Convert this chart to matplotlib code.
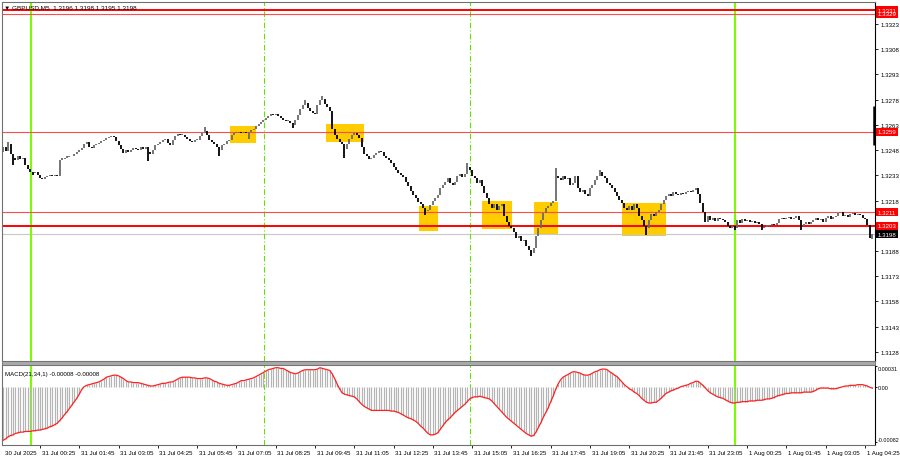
import matplotlib
matplotlib.use("Agg")
import matplotlib.pyplot as plt
import matplotlib.transforms as mtransforms
from matplotlib.patches import Rectangle
import pandas as pd

plt.rcParams['font.family'] = ['Liberation Sans', 'DejaVu Sans']

# ---------------- data ----------------
bar_start = "2025-07-30 23:10"
closes = [
    1.32501, 1.32477, 1.32518, 1.32459, 1.32430, 1.32418, 1.32442, 1.32424, 1.32430, 1.32394,
    1.32370, 1.32347, 1.32341, 1.32347, 1.32329, 1.32311, 1.32305, 1.32317, 1.32323, 1.32329,
    1.32323, 1.32329, 1.32323, 1.32418, 1.32430, 1.32430, 1.32442, 1.32442, 1.32447, 1.32459,
    1.32471, 1.32483, 1.32495, 1.32513, 1.32530, 1.32501, 1.32495, 1.32507, 1.32513, 1.32524,
    1.32536, 1.32542, 1.32554, 1.32560, 1.32566, 1.32560, 1.32536, 1.32507, 1.32489, 1.32465,
    1.32483, 1.32471, 1.32483, 1.32495, 1.32489, 1.32483, 1.32501, 1.32489, 1.32501, 1.32471,
    1.32459, 1.32483, 1.32507, 1.32518, 1.32530, 1.32542, 1.32548, 1.32524, 1.32507, 1.32542,
    1.32566, 1.32578, 1.32572, 1.32572, 1.32560, 1.32548, 1.32536, 1.32530, 1.32542, 1.32542,
    1.32566, 1.32584, 1.32596, 1.32572, 1.32542, 1.32530, 1.32518, 1.32501, 1.32483, 1.32507,
    1.32518, 1.32536, 1.32542, 1.32572, 1.32584, 1.32584, 1.32590, 1.32584, 1.32590, 1.32584,
    1.32590, 1.32601, 1.32607, 1.32625, 1.32637, 1.32649, 1.32661, 1.32673, 1.32684, 1.32696,
    1.32690, 1.32696, 1.32684, 1.32673, 1.32661, 1.32655, 1.32655, 1.32643, 1.32631, 1.32661,
    1.32690, 1.32726, 1.32750, 1.32762, 1.32732, 1.32714, 1.32702, 1.32696, 1.32750, 1.32779,
    1.32785, 1.32756, 1.32738, 1.32714, 1.32607, 1.32572, 1.32548, 1.32530, 1.32513, 1.32489,
    1.32513, 1.32548, 1.32572, 1.32584, 1.32572, 1.32554, 1.32501, 1.32459, 1.32442, 1.32424,
    1.32430, 1.32453, 1.32465, 1.32477, 1.32471, 1.32447, 1.32430, 1.32418, 1.32400, 1.32382,
    1.32359, 1.32341, 1.32329, 1.32317, 1.32293, 1.32264, 1.32234, 1.32211, 1.32192, 1.32169,
    1.32157, 1.32133, 1.32115, 1.32121, 1.32151, 1.32175, 1.32192, 1.32211, 1.32252, 1.32275,
    1.32293, 1.32311, 1.32287, 1.32275, 1.32293, 1.32323, 1.32335, 1.32317, 1.32335, 1.32382,
    1.32359, 1.32323, 1.32311, 1.32287, 1.32299, 1.32264, 1.32222, 1.32192, 1.32157, 1.32133,
    1.32157, 1.32121, 1.32145, 1.32157, 1.32086, 1.32050, 1.32026, 1.32014, 1.31991, 1.31955,
    1.31967, 1.31938, 1.31944, 1.31908, 1.31884, 1.31866, 1.31896, 1.31967, 1.32014, 1.32062,
    1.32103, 1.32133, 1.32145, 1.32163, 1.32175, 1.32323, 1.32311, 1.32299, 1.32323, 1.32305,
    1.32311, 1.32275, 1.32287, 1.32323, 1.32252, 1.32228, 1.32240, 1.32216, 1.32204, 1.32252,
    1.32275, 1.32299, 1.32323, 1.32347, 1.32323, 1.32311, 1.32287, 1.32275, 1.32252, 1.32228,
    1.32204, 1.32181, 1.32163, 1.32133, 1.32121, 1.32145, 1.32121, 1.32157, 1.32133, 1.32086,
    1.32062, 1.32026, 1.32014, 1.32062, 1.32097, 1.32086, 1.32109, 1.32121, 1.32157, 1.32181,
    1.32204, 1.32216, 1.32204, 1.32228, 1.32216, 1.32211, 1.32222, 1.32216, 1.32228, 1.32234,
    1.32228, 1.32240, 1.32252, 1.32216, 1.32163, 1.32109, 1.32050, 1.32086, 1.32062, 1.32074,
    1.32056, 1.32074, 1.32068, 1.32062, 1.32050, 1.32026, 1.32014, 1.32026, 1.32014, 1.32062,
    1.32044, 1.32068, 1.32056, 1.32062, 1.32050, 1.32056, 1.32044, 1.32050, 1.32038, 1.32014,
    1.32020, 1.32032, 1.32032, 1.32038, 1.32032, 1.32044, 1.32068, 1.32074, 1.32068, 1.32074,
    1.32080, 1.32068, 1.32074, 1.32086, 1.32062, 1.32026, 1.32038, 1.32050, 1.32038, 1.32050,
    1.32062, 1.32074, 1.32062, 1.32068, 1.32050, 1.32074, 1.32086, 1.32068, 1.32080, 1.32086,
    1.32103, 1.32109, 1.32086, 1.32092, 1.32080, 1.32097, 1.32103, 1.32092, 1.32097, 1.32092,
    1.32074, 1.32068, 1.32032, 1.31960, 1.31980,
]
first_open = 1.32470
wick_high = {2: 1.32530, 82: 1.32619, 123: 1.32780, 130: 1.32803, 189: 1.32400,
             225: 1.32376, 243: 1.32359, 354: 1.31980}
wick_low = {4: 1.32390, 12: 1.32330, 59: 1.32412, 88: 1.32447, 100: 1.32548, 118: 1.32613,
            139: 1.32430, 172: 1.32092, 215: 1.31849, 262: 1.31973, 298: 1.32003,
            309: 1.32003, 325: 1.32003, 354: 1.31950}

macd = [
    -0.00079, -0.00077, -0.00074, -0.00072, -0.00071, -0.00069, -0.00068, -0.00067, -0.00067, -0.00066,
    -0.00066, -0.00066, -0.00065, -0.00065, -0.00064, -0.00064, -0.00063, -0.00062, -0.00061, -0.00059,
    -0.00058, -0.00056, -0.00054, -0.00050, -0.00046, -0.00041, -0.00037, -0.00032, -0.00027, -0.00022,
    -0.00017, -0.00011, -0.00004, 0.00000, 0.00002, 0.00003, 0.00004, 0.00005, 0.00006, 0.00007,
    0.00009, 0.00011, 0.00014, 0.00015, 0.00016, 0.00017, 0.00017, 0.00016, 0.00014, 0.00012,
    0.00009, 0.00007, 0.00007, 0.00006, 0.00006, 0.00006, 0.00005, 0.00004, 0.00003, 0.00002,
    0.00001, 0.00001, 0.00002, 0.00003, 0.00004, 0.00005, 0.00005, 0.00006, 0.00007, 0.00007,
    0.00009, 0.00011, 0.00013, 0.00014, 0.00014, 0.00014, 0.00014, 0.00013, 0.00013, 0.00012,
    0.00012, 0.00012, 0.00013, 0.00013, 0.00012, 0.00010, 0.00008, 0.00007, 0.00005, 0.00004,
    0.00003, 0.00002, 0.00002, 0.00003, 0.00004, 0.00005, 0.00007, 0.00009, 0.00009, 0.00010,
    0.00011, 0.00012, 0.00013, 0.00015, 0.00017, 0.00019, 0.00021, 0.00023, 0.00025, 0.00026,
    0.00027, 0.00028, 0.00028, 0.00027, 0.00027, 0.00025, 0.00023, 0.00021, 0.00020, 0.00019,
    0.00020, 0.00022, 0.00024, 0.00025, 0.00025, 0.00025, 0.00025, 0.00025, 0.00026, 0.00028,
    0.00027, 0.00026, 0.00025, 0.00024, 0.00019, 0.00012, 0.00004, -0.00003, -0.00009, -0.00011,
    -0.00012, -0.00013, -0.00014, -0.00015, -0.00018, -0.00022, -0.00026, -0.00029, -0.00031, -0.00033,
    -0.00035, -0.00035, -0.00035, -0.00035, -0.00035, -0.00035, -0.00035, -0.00035, -0.00036, -0.00036,
    -0.00037, -0.00038, -0.00040, -0.00042, -0.00044, -0.00046, -0.00047, -0.00049, -0.00051, -0.00054,
    -0.00058, -0.00061, -0.00065, -0.00069, -0.00071, -0.00071, -0.00070, -0.00068, -0.00063, -0.00058,
    -0.00053, -0.00049, -0.00046, -0.00042, -0.00038, -0.00035, -0.00032, -0.00029, -0.00026, -0.00022,
    -0.00018, -0.00016, -0.00015, -0.00015, -0.00014, -0.00015, -0.00016, -0.00017, -0.00018, -0.00021,
    -0.00025, -0.00029, -0.00033, -0.00037, -0.00041, -0.00045, -0.00048, -0.00051, -0.00054, -0.00057,
    -0.00060, -0.00063, -0.00066, -0.00069, -0.00071, -0.00073, -0.00072, -0.00067, -0.00060, -0.00053,
    -0.00045, -0.00038, -0.00031, -0.00022, -0.00014, -0.00004, 0.00004, 0.00010, 0.00014, 0.00016,
    0.00018, 0.00020, 0.00022, 0.00022, 0.00021, 0.00020, 0.00018, 0.00017, 0.00017, 0.00018,
    0.00020, 0.00022, 0.00023, 0.00025, 0.00026, 0.00026, 0.00025, 0.00022, 0.00020, 0.00017,
    0.00015, 0.00011, 0.00007, 0.00003, 0.00000, -0.00003, -0.00005, -0.00008, -0.00010, -0.00013,
    -0.00017, -0.00020, -0.00023, -0.00024, -0.00024, -0.00023, -0.00023, -0.00020, -0.00017, -0.00013,
    -0.00010, -0.00008, -0.00006, -0.00005, -0.00003, -0.00002, 0.00000, 0.00001, 0.00002, 0.00003,
    0.00005, 0.00006, 0.00008, 0.00008, 0.00005, 0.00002, -0.00002, -0.00006, -0.00009, -0.00011,
    -0.00013, -0.00015, -0.00016, -0.00017, -0.00019, -0.00021, -0.00023, -0.00024, -0.00024, -0.00023,
    -0.00023, -0.00022, -0.00022, -0.00022, -0.00021, -0.00021, -0.00021, -0.00020, -0.00020, -0.00020,
    -0.00019, -0.00018, -0.00018, -0.00017, -0.00016, -0.00014, -0.00013, -0.00012, -0.00011, -0.00010,
    -0.00010, -0.00009, -0.00009, -0.00009, -0.00009, -0.00009, -0.00008, -0.00008, -0.00008, -0.00008,
    -0.00007, -0.00005, -0.00003, -0.00002, -0.00002, -0.00002, -0.00002, -0.00003, -0.00003, -0.00003,
    -0.00002, -0.00001, 0.00000, 0.00001, 0.00001, 0.00002, 0.00002, 0.00002, 0.00003, 0.00003,
    0.00003, 0.00002, 0.00001, -0.00001, -0.00002,
]

price_ticks = [1.3323, 1.3308, 1.3293, 1.3278, 1.3263, 1.3248, 1.3233, 1.3218,
               1.3188, 1.3173, 1.3158, 1.3143, 1.3128]
price_range = (1.31226, 1.33360)
macd_ticks = [0.00031, 0.0, -0.00082]
macd_tick_labels = ["0.00031", "0.00", "-0.00082"]
macd_range = (-0.00086, 0.00032)

levels = [1.3331, 1.3329, 1.3259, 1.3211, 1.3203]
level_widths = [1.4, 0.8, 0.8, 0.8, 1.4]
level_colors = ["#ff0000", "#ff4d4d", "#ff4d4d", "#ff4d4d", "#ff0000"]
current_price = 1.3198

# yellow zones: (first bar, last bar, low price, high price)
zones = [(92.4, 103.0, 1.32519, 1.32625),
         (131.5, 147.0, 1.32530, 1.32637),
         (169.4, 177.1, 1.31997, 1.32145),
         (195.0, 207.2, 1.32009, 1.32175),
         (216.2, 226.0, 1.31979, 1.32169),
         (252.1, 270.0, 1.31967, 1.32163)]

session_solid = [11.33, 298.05]
session_dash = [106.35, 190.25]
scale_marker = (1.32507, 1.32744)

time_labels = ["30 Jul 2025", "31 Jul 00:25", "31 Jul 01:45", "31 Jul 03:05", "31 Jul 04:25",
               "31 Jul 05:45", "31 Jul 07:05", "31 Jul 08:25", "31 Jul 09:45", "31 Jul 11:05",
               "31 Jul 12:25", "31 Jul 13:45", "31 Jul 15:05", "31 Jul 16:25", "31 Jul 17:45",
               "31 Jul 19:05", "31 Jul 20:25", "31 Jul 21:45", "31 Jul 23:05", "1 Aug 00:25",
               "1 Aug 01:45", "1 Aug 03:05", "1 Aug 04:25"]
time_label_times = ["2025-07-30 23:10", "2025-07-31 00:25", "2025-07-31 01:45", "2025-07-31 03:05",
                    "2025-07-31 04:25", "2025-07-31 05:45", "2025-07-31 07:05", "2025-07-31 08:25",
                    "2025-07-31 09:45", "2025-07-31 11:05", "2025-07-31 12:25", "2025-07-31 13:45",
                    "2025-07-31 15:05", "2025-07-31 16:25", "2025-07-31 17:45", "2025-07-31 19:05",
                    "2025-07-31 20:25", "2025-07-31 21:45", "2025-07-31 23:05", "2025-08-01 00:25",
                    "2025-08-01 01:45", "2025-08-01 03:05", "2025-08-01 04:25"]

title_text = "\u25bc GBPUSD,M5  1.3196 1.3198 1.3195 1.3198"
macd_title = "MACD(21,34,1) -0.00008 -0.00008"

# ---------------- figure ----------------
W, H = 900, 460
fig = plt.figure(figsize=(W / 100, H / 100), dpi=100)
fig.patch.set_facecolor("white")


def ax_px(left, top, right, bottom):
    return fig.add_axes([left / W, 1 - bottom / H, (right - left) / W, (bottom - top) / H])


ax = ax_px(2, 3, 875, 362)
axm = ax_px(2, 366, 875, 446)

n = len(closes)
bar_times = pd.date_range(bar_start, periods=n, freq="5min")
xs = list(range(n))
opens = [first_open] + closes[:-1]

min_len = 0.00004
bull_x, bull_lo, bull_hi, bear_x, bear_lo, bear_hi = [], [], [], [], [], []
for i in xs:
    o, c = opens[i], closes[i]
    hi = max(o, c, wick_high.get(i, -1))
    lo = min(o, c, wick_low.get(i, 9))
    if hi - lo < min_len:
        mid = (hi + lo) / 2
        hi, lo = mid + min_len / 2, mid - min_len / 2
    if c >= o:
        bull_x.append(i); bull_lo.append(lo); bull_hi.append(hi)
    else:
        bear_x.append(i); bear_lo.append(lo); bear_hi.append(hi)

xlim = (-0.48, 355.07)

# yellow zones
for (x0, x1, p0, p1) in zones:
    ax.add_patch(Rectangle((x0, p0), x1 - x0, p1 - p0, facecolor="#ffcc00",
                           edgecolor="none", zorder=1))

# horizontal levels
for lv, lw, col in zip(levels, level_widths, level_colors):
    ax.axhline(lv, color=col, lw=lw, zorder=2)
ax.axhline(current_price, color="#c8c8c8", lw=0.8, zorder=1.5)

# session lines
for a in (ax, axm):
    for s in session_solid:
        a.axvline(s, color="#7cfc00", lw=1.5, zorder=1.8)
    for s in session_dash:
        a.axvline(s, color="#66e000", lw=0.8, ls=(0, (5, 2, 1, 2)), zorder=1.8)

# candles
ax.vlines(bull_x, bull_lo, bull_hi, color="#6a6a6a", lw=1.3, zorder=3)
ax.vlines(bear_x, bear_lo, bear_hi, color="#000000", lw=1.3, zorder=3)

ax.set_xlim(*xlim)
ax.set_ylim(*price_range)
ax.set_xticks([])
ax.yaxis.tick_right()
ax.set_yticks(price_ticks)
ax.set_yticklabels([f"{p:.4f}" for p in price_ticks])
ax.tick_params(axis="y", direction="out", length=2.5, width=0.6, labelsize=4.4, pad=1.5,
               colors="#000000")
for sp in ax.spines.values():
    sp.set_color("#707070")
    sp.set_linewidth(0.8)
ax.spines["right"].set_color("#000000")

# right-side price labels
bt = mtransforms.blended_transform_factory(ax.transAxes, ax.transData)
box_w = 22 / 873
box_h = 8 * (price_range[1] - price_range[0]) / 359
label_specs = [(lv, "#ff0000") for lv in levels] + [(current_price, "#000000")]
for lv, col in label_specs:
    ax.add_patch(Rectangle((1 + 1 / 873, lv - box_h / 2), box_w, box_h, transform=bt,
                           facecolor=col, edgecolor="none", clip_on=False, zorder=5))
    ax.text(1 + 3 / 873, lv, f"{lv:.4f}", transform=bt, color="white", fontsize=4.4,
            ha="left", va="center", clip_on=False, zorder=6)

# scale marker on the price axis
ax.plot([1 - 0.6 / 873, 1 - 0.6 / 873], list(scale_marker), transform=bt, color="black",
        lw=1.8, clip_on=False, zorder=6, solid_capstyle="butt")

# MACD panel
axm.vlines(xs, 0, macd, color="#b4b4b4", lw=0.85, zorder=2)
axm.plot(xs, macd, color="#ff2020", lw=0.9, zorder=3)
axm.set_xlim(*xlim)
axm.set_ylim(*macd_range)
axm.yaxis.tick_right()
axm.set_yticks(macd_ticks)
axm.set_yticklabels(macd_tick_labels)
axm.tick_params(axis="y", direction="out", length=1.5, width=0.6, labelsize=3.9, pad=0.8)
ylabels = axm.get_yticklabels()
ylabels[0].set_va("top")
ylabels[2].set_va("bottom")
label_pos = list(bar_times.get_indexer(pd.to_datetime(time_label_times)))
axm.set_xticks(label_pos[1:])
axm.set_xticklabels([])
axm.tick_params(axis="x", direction="out", length=2.5, width=0.6)
bx = mtransforms.blended_transform_factory(axm.transData, axm.transAxes)
offset = mtransforms.ScaledTranslation(1.5 / 100, 0, fig.dpi_scale_trans)
for k, (pos, txt) in enumerate(zip(label_pos, time_labels)):
    axm.text(pos, -0.06, txt, transform=bx + offset, fontsize=4.4, ha="left", va="top",
             clip_on=False)
for sp in axm.spines.values():
    sp.set_color("#707070")
    sp.set_linewidth(0.8)
axm.spines["right"].set_color("#000000")
axm.text(3 / 873, 0.93, macd_title, transform=axm.transAxes, fontsize=4.4, ha="left",
         va="top")

# separator band between panels
fig.patches.append(Rectangle((2 / W, 1 - 366 / H), 873 / W, 4 / H, transform=fig.transFigure,
                             facecolor="#a8a8a8", edgecolor="#707070", lw=0.6))

# chart title
fig.text(4 / W, 1 - 7.5 / H, title_text, fontsize=4.6, ha="left", va="center")

fig.savefig("out.png", dpi=100, facecolor="white")
